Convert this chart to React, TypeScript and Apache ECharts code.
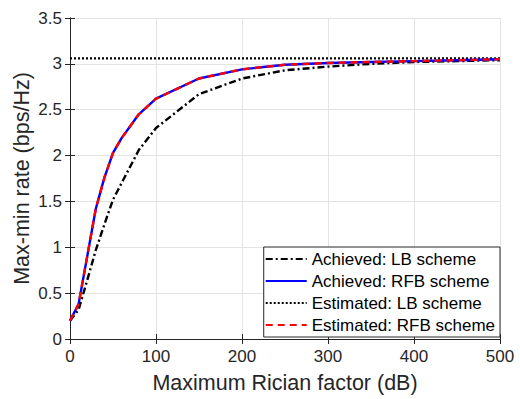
import React, { useEffect, useRef } from "react";
import * as echarts from "echarts";

const xValues = [0, 10, 20, 30, 40, 50, 60, 80, 100, 150, 200, 250, 300, 350, 400, 450, 500];
const achievedLB = [0.2, 0.32, 0.64, 0.97, 1.25, 1.52, 1.7, 2.06, 2.3, 2.67, 2.84, 2.93, 2.97, 3.0, 3.02, 3.03, 3.04];
const achievedRFB = [0.2, 0.38, 0.9, 1.42, 1.76, 2.03, 2.19, 2.45, 2.62, 2.84, 2.94, 2.99, 3.01, 3.02, 3.03, 3.04, 3.05];
const estimatedRFB = [0.2, 0.38, 0.9, 1.42, 1.76, 2.03, 2.19, 2.45, 2.62, 2.84, 2.94, 2.99, 3.01, 3.02, 3.03, 3.04, 3.05];
const estimatedLBValue = 3.06;
const estimatedLB = xValues.map(() => estimatedLBValue);

const seriesNames = [
  "Achieved: LB scheme",
  "Achieved: RFB scheme",
  "Estimated: LB scheme",
  "Estimated: RFB scheme",
];

const pairs = (ys: number[]) => xValues.map((x, i) => [x, ys[i]]);

export default function App() {
  const ref = useRef<HTMLDivElement>(null);
  useEffect(() => {
    if (!ref.current) return;
    const chart = echarts.init(ref.current, undefined, { renderer: "svg" });
    const font = "Liberation Sans, Arial, Helvetica, sans-serif";
    const axisCommon = {
      axisLine: { show: true, lineStyle: { color: "#262626", width: 1 } },
      axisTick: { show: true, inside: true, length: 5, lineStyle: { color: "#262626" } },
      axisLabel: { color: "#262626", fontSize: 17, fontFamily: font },
    };
    chart.setOption({
      animation: false,
      backgroundColor: "#fff",
      grid: { left: 70, right: 20, top: 18, bottom: 60, containLabel: false, outerBoundsMode: "none" },
      legend: {
        right: 20,
        bottom: 62,
        orient: "vertical",
        backgroundColor: "#fff",
        borderColor: "#262626",
        borderWidth: 1,
        borderRadius: 0,
        padding: [3, 5, 3, 1],
        itemGap: 4,
        itemWidth: 41,
        itemHeight: 14,
        itemStyle: { opacity: 0 },
        textStyle: { fontSize: 17, lineHeight: 18, fontFamily: font, color: "#000" },
        data: seriesNames,
      },
      xAxis: [
        {
          type: "value",
          min: 0,
          max: 500,
          interval: 100,
          name: "Maximum Rician factor (dB)",
          nameLocation: "middle",
          nameGap: 33,
          nameMoveOverlap: false,
          nameTextStyle: { fontSize: 21.5, color: "#262626", fontFamily: font },
          splitLine: { show: true, lineStyle: { color: "#e3e3e3" } },
          ...axisCommon,
          axisLabel: { ...axisCommon.axisLabel, margin: 9 },
        },
        {
          type: "value",
          position: "top",
          min: 0,
          max: 500,
          interval: 100,
          splitLine: { show: false },
          ...axisCommon,
          axisLabel: { show: false },
        },
      ],
      yAxis: [
        {
          type: "value",
          min: 0,
          max: 3.5,
          interval: 0.5,
          name: "Max-min rate (bps/Hz)",
          nameLocation: "middle",
          nameGap: 37,
          nameMoveOverlap: false,
          nameTextStyle: { fontSize: 21.5, color: "#262626", fontFamily: font },
          splitLine: { show: true, lineStyle: { color: "#e3e3e3" } },
          ...axisCommon,
          axisLabel: { ...axisCommon.axisLabel, margin: 8 },
        },
        {
          type: "value",
          position: "right",
          min: 0,
          max: 3.5,
          interval: 0.5,
          splitLine: { show: false },
          ...axisCommon,
          axisLabel: { show: false },
        },
      ],
      series: [
        {
          name: seriesNames[0],
          type: "line",
          data: pairs(achievedLB),
          showSymbol: false,
          symbol: "none",
          lineStyle: { color: "#000", width: 2.4, type: [7, 3, 2, 3] },
          itemStyle: { color: "#000" },
          z: 3,
        },
        {
          name: seriesNames[1],
          type: "line",
          data: pairs(achievedRFB),
          showSymbol: false,
          symbol: "none",
          lineStyle: { color: "#0000ff", width: 2.4, type: "solid" },
          itemStyle: { color: "#0000ff" },
          z: 4,
        },
        {
          name: seriesNames[2],
          type: "line",
          data: pairs(estimatedLB),
          showSymbol: false,
          symbol: "none",
          lineStyle: { color: "#000", width: 2.2, type: [2, 2] },
          itemStyle: { color: "#000" },
          z: 2,
        },
        {
          name: seriesNames[3],
          type: "line",
          data: pairs(estimatedRFB),
          showSymbol: false,
          symbol: "none",
          lineStyle: { color: "#ff0000", width: 2.4, type: [7, 5] },
          itemStyle: { color: "#ff0000" },
          z: 5,
        },
      ],
    });
    return () => chart.dispose();
  }, []);
  return <div ref={ref} style={{ width: 520, height: 399, position: "absolute", left: 0, top: 0 }} />;
}
